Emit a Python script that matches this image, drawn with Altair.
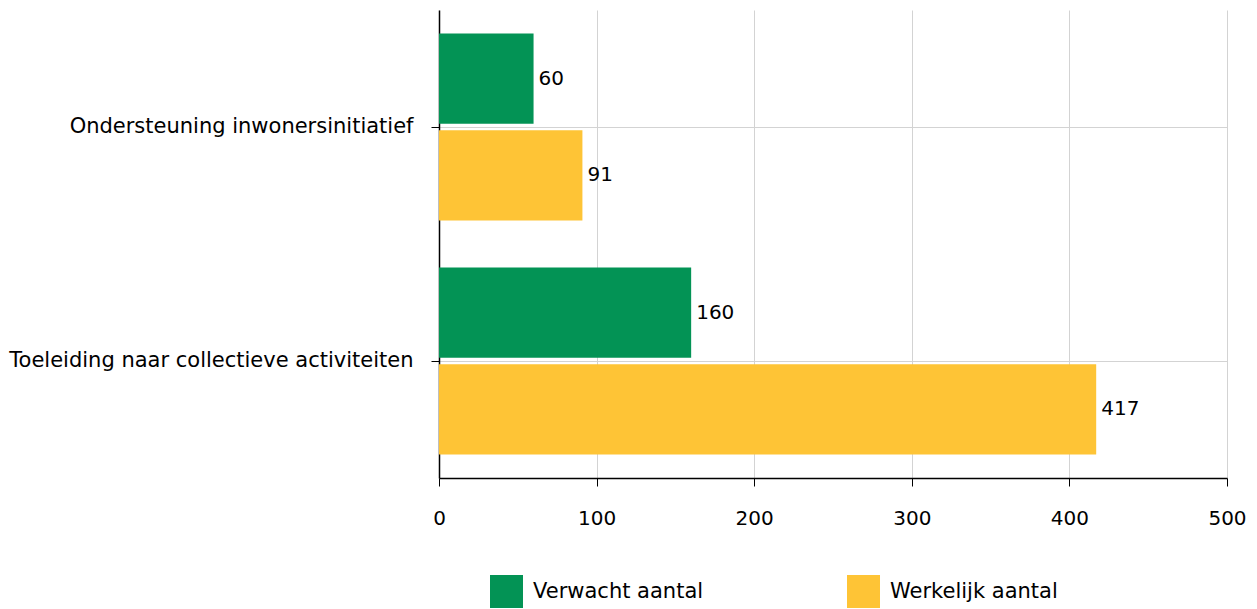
import altair as alt
import pandas as pd

categories = ["Ondersteuning inwonersinitiatief", "Toeleiding naar collectieve activiteiten"]
series = ["Verwacht aantal", "Werkelijk aantal"]
verwacht = [60, 160]
werkelijk = [91, 417]
colors = ["#039355", "#FEC436"]

rows = []
for i, c in enumerate(categories):
    rows.append({"cat": c, "serie": series[0], "value": verwacht[i]})
    rows.append({"cat": c, "serie": series[1], "value": werkelijk[i]})
df = pd.DataFrame(rows)

FONT = "DejaVu Sans"
FS = 21
NFS = 20
GRID = "#d3d3d3"

base = alt.Chart(df).encode(
    y=alt.Y("cat:N", sort=categories, title=None,
            scale=alt.Scale(paddingInner=0.2, paddingOuter=0.1),
            axis=alt.Axis(labelFontSize=FS, labelFont=FONT, labelColor="#000",
                          tickSize=8, tickColor="#000", domainColor="#000", domainWidth=1.5,
                          labelPadding=18, gridColor=GRID, grid=True, labelLimit=600)),
    yOffset=alt.YOffset("serie:N", sort=series, scale=alt.Scale(paddingInner=0.065)),
)

bars = base.mark_bar().encode(
    x=alt.X("value:Q", title=None, scale=alt.Scale(domain=[0, 500]),
            axis=alt.Axis(values=[0, 100, 200, 300, 400, 500], labelFontSize=NFS, labelFont=FONT,
                          labelColor="#000", tickSize=8, tickColor="#000", domainColor="#000",
                          domainWidth=1.5, labelPadding=22, labelFlush=False,
                          gridColor=GRID)),
    color=alt.Color("serie:N", sort=series, title=None,
                    scale=alt.Scale(domain=series, range=colors),
                    legend=alt.Legend(orient="none", legendX=51, legendY=565, direction="horizontal",
                                      columns=2, symbolType="square", symbolSize=1089,
                                      symbolStrokeWidth=0, labelFontSize=FS, labelFont=FONT,
                                      labelColor="#000", columnPadding=143, gridAlign="all",
                                      labelOffset=10, labelLimit=400)),
)

labels = base.mark_text(align="left", baseline="middle", dx=5, fontSize=NFS, font=FONT,
                        color="#000").encode(
    x="value:Q",
    text="value:Q",
)

chart = (bars + labels).properties(
    width=788, height=468,
    autosize=alt.AutoSizeParams(type="none"),
    padding={"left": 431, "top": 2, "right": 22, "bottom": 131},
).configure_view(stroke=None)

chart.save("out.html", embed_options={"renderer": "svg", "actions": False})
